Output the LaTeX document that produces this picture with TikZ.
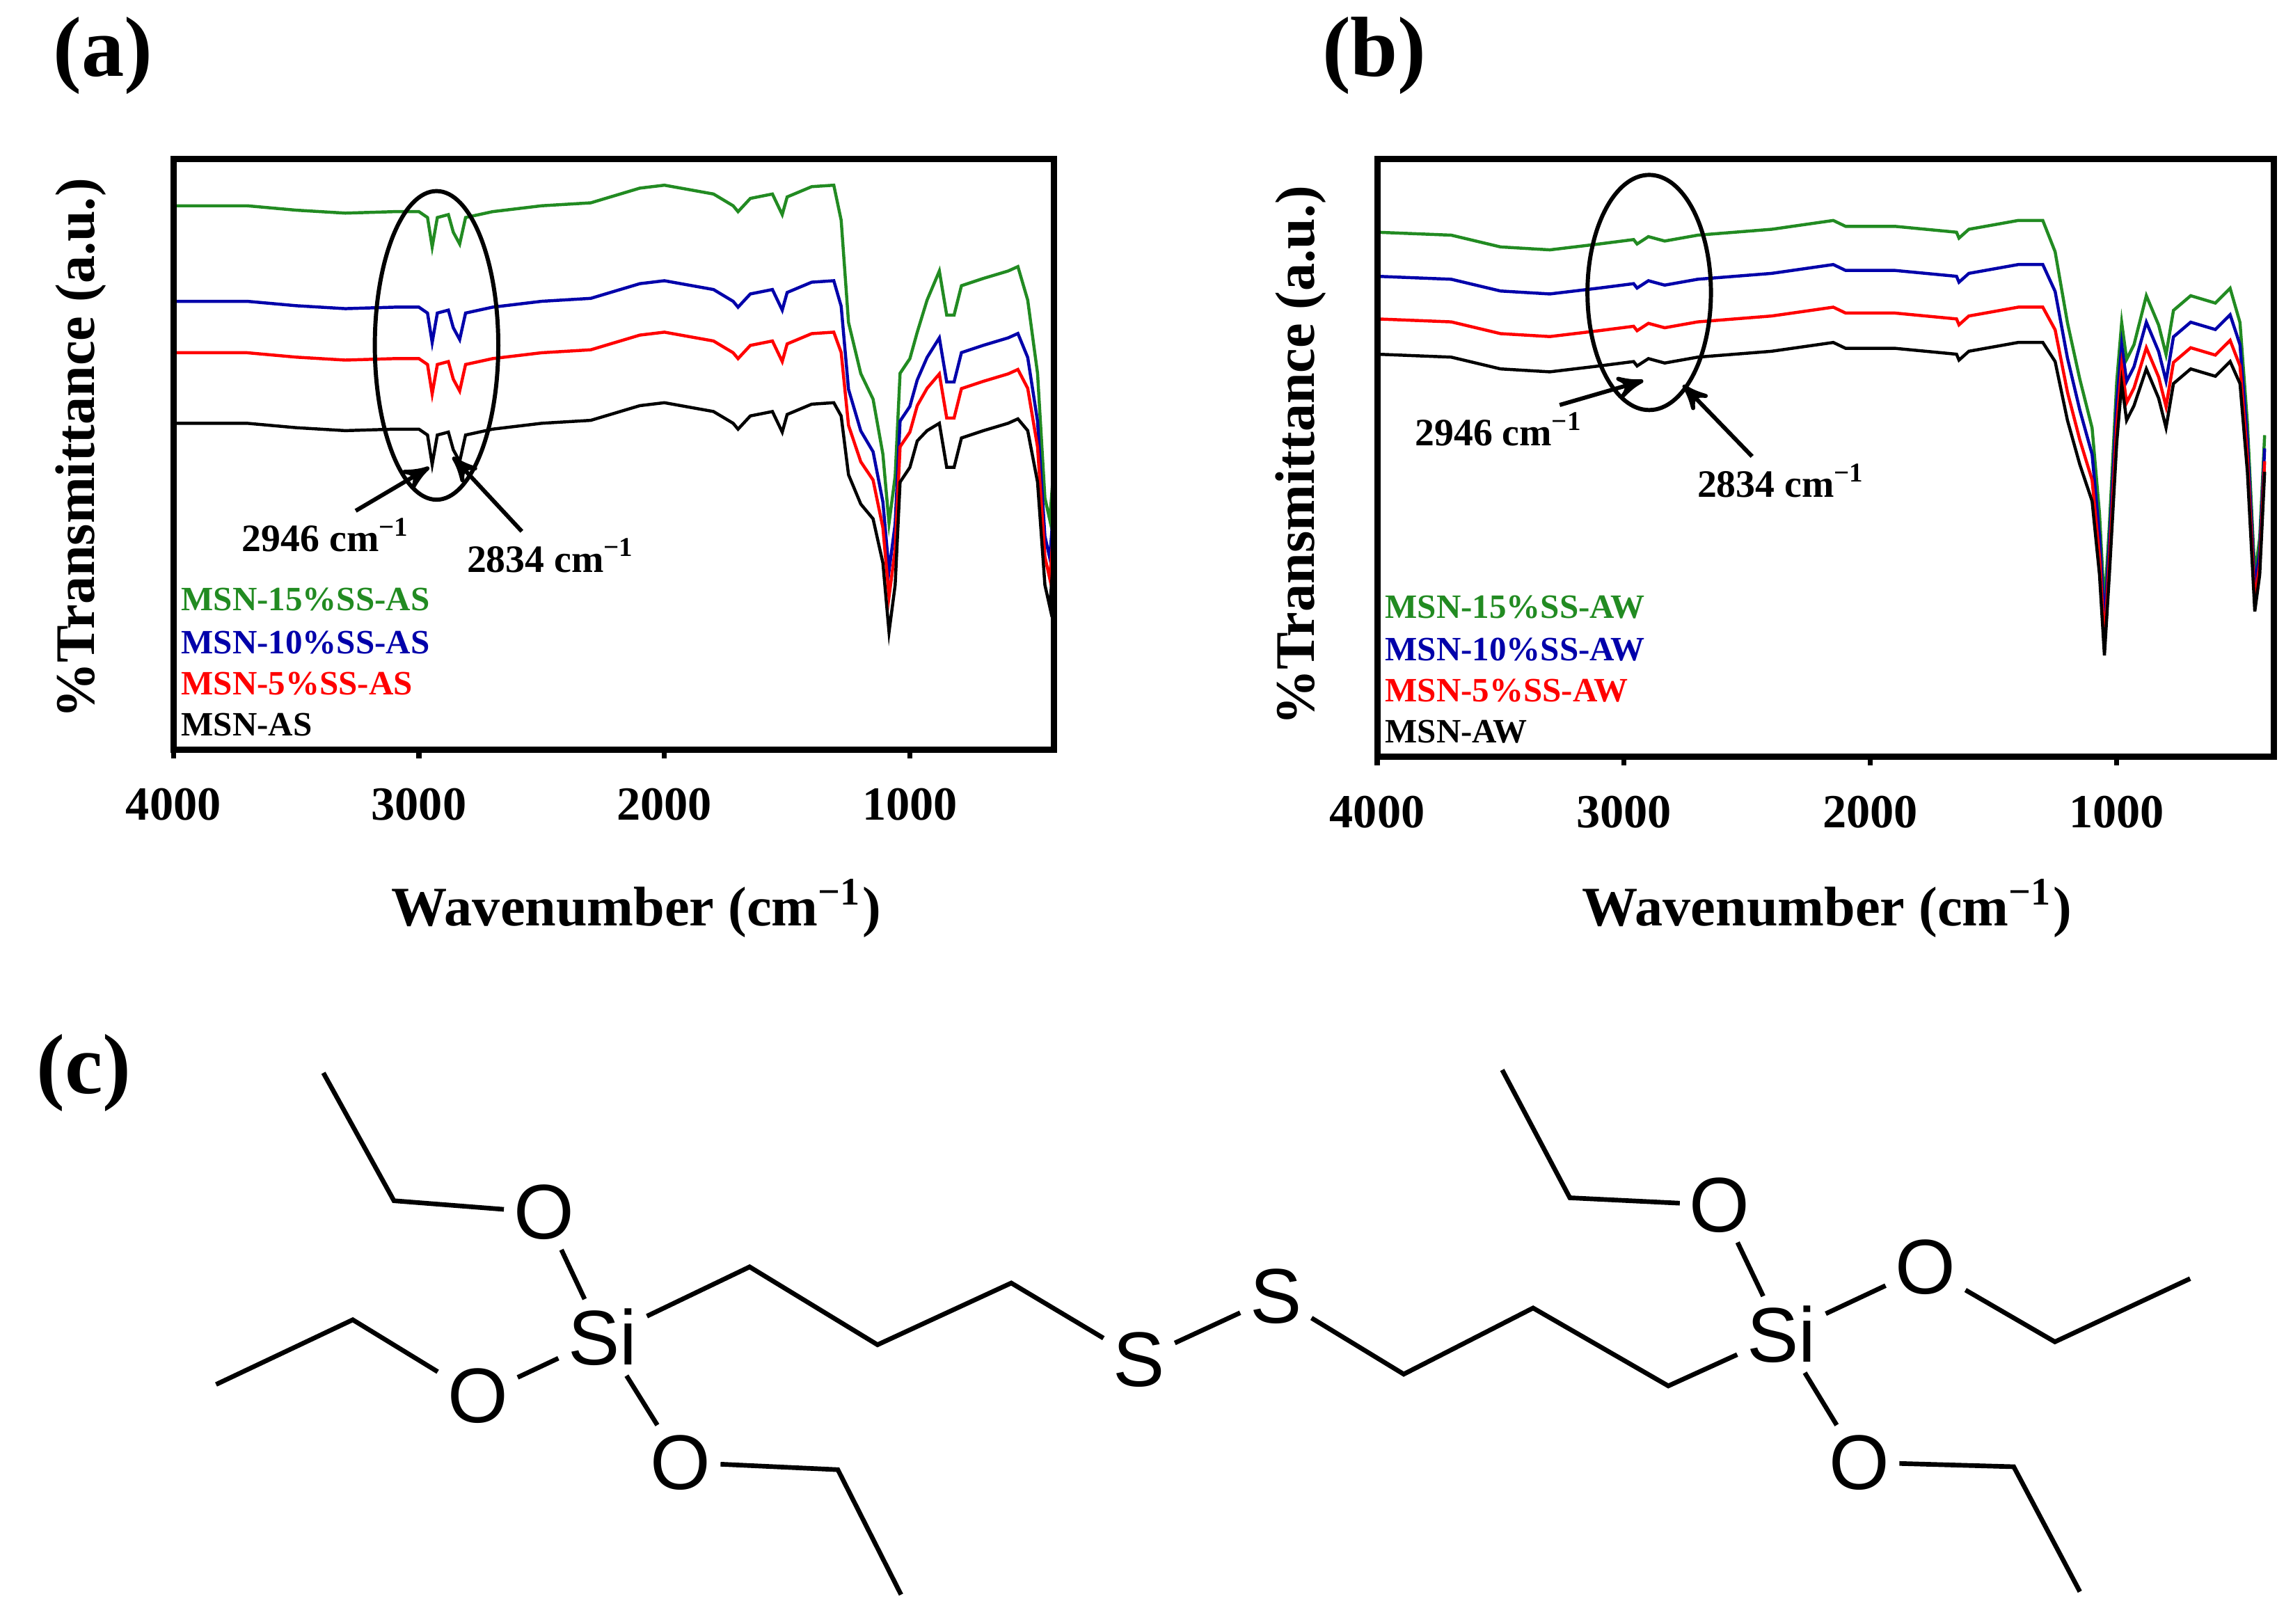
\documentclass[tikz,border=0pt]{standalone}
\usepackage{fontspec}
\setmainfont{Liberation Serif}
\newfontfamily\chemfont{Liberation Sans}
\usetikzlibrary{arrows}
\usetikzlibrary{positioning}

\definecolor{specgreen}{RGB}{34,139,34}
\definecolor{specblue}{RGB}{0,0,170}
\definecolor{specred}{RGB}{255,0,0}

% profiles: wavenumber/offset/weight
\newcommand\profa{4000/0/1, 3700/0/1, 3500/3/1, 3300/5/1, 3100/4/1, 3000/4/1, 2965/8/1, 2946/28/1, 2925/8/1, 2880/6/1, 2860/18/1, 2834/26/1, 2810/8/1, 2700/4/1, 2500/0/1, 2300/-2/1, 2100/-12/1, 2000/-14/1, 1800/-8/1, 1720/0/1, 1700/4/1, 1650/-5/1, 1560/-8/1, 1520/6/1, 1500/-6/1, 1400/-13/1, 1310/-14/1, 1280/-5/0.9, 1250/35/0.7, 1200/55/0.6, 1150/65/0.55, 1110/95/0.5, 1085/142/0.5, 1060/110/0.5, 1040/40/0.5, 1000/30/0.5, 970/12/0.5, 930/5/0.6, 880/0/0.7, 850/30/0.7, 820/30/0.7, 790/10/0.7, 700/5/0.7, 600/0/0.7, 560/-3/0.7, 520/5/0.6, 480/40/0.5, 450/110/0.4, 430/125/0.4, 410/80/0.4}
\newcommand\profb{4000/0/1, 3700/2/1, 3500/10/1, 3300/12/1, 3100/8/1, 2960/5/1, 2946/8/1, 2900/3/1, 2834/6/1, 2700/2/1, 2400/-2/1, 2150/-8/1, 2100/-4/1, 1900/-4/1, 1650/0/1, 1640/4/1, 1600/-2/1, 1400/-8/1, 1300/-8/1, 1250/5/0.9, 1200/45/0.8, 1150/75/0.7, 1100/100/0.6, 1070/150/0.5, 1050/205/0.4, 1030/150/0.4, 1000/60/0.5, 980/20/0.5, 960/45/0.5, 930/35/0.5, 880/10/0.6, 830/30/0.6, 800/50/0.6, 770/20/0.6, 700/10/0.6, 600/15/0.6, 540/5/0.6, 500/20/0.5, 470/80/0.4, 440/175/0.3, 420/150/0.3, 400/80/0.3}

% colour, x0, px per cm-1, base, pivot, profile
\newcommand\specline[6]{%
  \draw[spec,#1] (#2,#4) \foreach \w/\d/\k in #6 {-- ({#2+(4000-\w)*#3},{#5+(#4-#5)*\k+\d})};}

\begin{document}
\begin{tikzpicture}[x=0.01cm,y=-0.01cm,>=stealth',thick,
    spec/.style={line width=0.6pt},
    tick label/.style={font=\bfseries\fontsize{9.2}{10}\selectfont},
    axis label/.style={font=\bfseries\fontsize{10.8}{12}\selectfont},
    panel/.style={font=\bfseries\fontsize{16.5}{17}\selectfont},
    legend/.style={font=\bfseries\fontsize{6.6}{7}\selectfont,anchor=west,inner sep=0pt},
    peak/.style={font=\bfseries\fontsize{7.5}{8}\selectfont,inner sep=1pt},
    atom/.style={font=\chemfont\fontsize{15}{15}\selectfont,inner sep=1.5pt},
    bond/.style={line width=0.9pt}]
  \useasboundingbox (0,0) rectangle (1560,1105);

  % (a)
  \node[panel] (pa) at (70,38) {(a)};
  \begin{scope}
    \clip (118,108) rectangle (717,510);
    \specline{specgreen}{118}{0.167}{140}{288}{\profa}
    \specline{specblue}{118}{0.167}{205}{288}{\profa}
    \specline{specred}{118}{0.167}{240}{288}{\profa}
    \specline{black}{118}{0.167}{288}{288}{\profa}
  \end{scope}
  \draw[line width=1.2pt] (118,108) rectangle (717,510);
  \foreach \t in {4000,3000,2000,1000}
    \draw[line width=1pt] ({118+(4000-\t)*0.167},510) -- ++(0,6)
      node[tick label,below=2pt] {\t};
  \node[axis label] (xa) at (433,618) {Wavenumber (cm\textsuperscript{−1})};
  \node[axis label,rotate=90] (ya) at (55,305) {\%Transmittance (a.u.)};
  \node[legend,text=specgreen] (lg1) at (122,408) {MSN-15\%SS-AS};
  \node[legend,text=specblue] (lg2) at (122,437) {MSN-10\%SS-AS};
  \node[legend,text=specred] (lg3) at (122,465) {MSN-5\%SS-AS};
  \node[legend] (lg4) at (122,493) {MSN-AS};
  \draw (297,235) ellipse [x radius=42, y radius=105];
  \node[peak] (pa1) at (222,364) {2946 cm\textsuperscript{−1}};
  \node[peak] (pa2) at (375,378) {2834 cm\textsuperscript{−1}};
  \coordinate (ta1) at (292,318);
  \coordinate (ta2) at (308,311);
  \draw[->] ([xshift=-12]pa1.north east) -- (ta1);
  \draw[->] ([xshift=12]pa2.north west) -- (ta2);

  % (b)
  \node[panel] (pb) at (935,38) {(b)};
  \begin{scope}
    \clip (937,108) rectangle (1547,515);
    \specline{specgreen}{937}{0.1677}{158}{241}{\profb}
    \specline{specblue}{937}{0.1677}{188}{241}{\profb}
    \specline{specred}{937}{0.1677}{217}{241}{\profb}
    \specline{black}{937}{0.1677}{241}{241}{\profb}
  \end{scope}
  \draw[line width=1.2pt] (937,108) rectangle (1547,515);
  \foreach \t in {4000,3000,2000,1000}
    \draw[line width=1pt] ({937+(4000-\t)*0.1677},515) -- ++(0,6)
      node[tick label,below=2pt] {\t};
  \node[axis label] (xb) at (1243,618) {Wavenumber (cm\textsuperscript{−1})};
  \node[axis label,rotate=90] (yb) at (885,310) {\%Transmittance (a.u.)};
  \node[legend,text=specgreen] (lh1) at (941,413) {MSN-15\%SS-AW};
  \node[legend,text=specblue] (lh2) at (941,442) {MSN-10\%SS-AW};
  \node[legend,text=specred] (lh3) at (941,470) {MSN-5\%SS-AW};
  \node[legend] (lh4) at (941,498) {MSN-AW};
  \draw (1122,199) ellipse [x radius=42, y radius=80];
  \node[peak] (pb1) at (1020,292) {2946 cm\textsuperscript{−1}};
  \node[peak] (pb2) at (1212,327) {2834 cm\textsuperscript{−1}};
  \coordinate (tb1) at (1118,259);
  \coordinate (tb2) at (1145,262);
  \draw[->] ([xshift=-6]pb1.north east) -- (tb1);
  \draw[->] ([xshift=12]pb2.north west) -- (tb2);

  % (c)
  \node[panel] (pc) at (57,730) {(c)};
  \node[atom] (si1) at (410,910) {Si};
  \node[atom] (o1) at (370,825) {O};
  \node[atom] (o2) at (325,950) {O};
  \node[atom] (o3) at (463,995) {O};
  \node[atom] (s1) at (775,925) {S};
  \node[atom] (s2) at (868,882) {S};
  \node[atom] (si2) at (1212,908) {Si};
  \node[atom] (o4) at (1170,820) {O};
  \node[atom] (o5) at (1310,862) {O};
  \node[atom] (o6) at (1265,995) {O};
  \foreach \n/\p in {c1/{268,817},c2/{220,730},c3/{240,898},c4/{147,942},
      c5/{570,1000},c6/{613,1085},c7/{510,862},c8/{597,915},c9/{688,873},
      c10/{955,935},c11/{1043,890},c12/{1135,943},c13/{1068,815},c14/{1022,728},
      c15/{1398,913},c16/{1490,870},c17/{1370,998},c18/{1415,1083}}
    \coordinate (\n) at (\p);
  \draw[bond] (o1) -- (c1) -- (c2);
  \draw[bond] (o2) -- (c3) -- (c4);
  \draw[bond] (o3) -- (c5) -- (c6);
  \draw[bond] (si1) -- (o1);
  \draw[bond] (si1) -- (o2);
  \draw[bond] (si1) -- (o3);
  \draw[bond] (si1) -- (c7) -- (c8) -- (c9) -- (s1);
  \draw[bond] (s1) -- (s2);
  \draw[bond] (s2) -- (c10) -- (c11) -- (c12) -- (si2);
  \draw[bond] (si2) -- (o4);
  \draw[bond] (si2) -- (o5);
  \draw[bond] (si2) -- (o6);
  \draw[bond] (o4) -- (c13) -- (c14);
  \draw[bond] (o5) -- (c15) -- (c16);
  \draw[bond] (o6) -- (c17) -- (c18);
\end{tikzpicture}
\end{document}
